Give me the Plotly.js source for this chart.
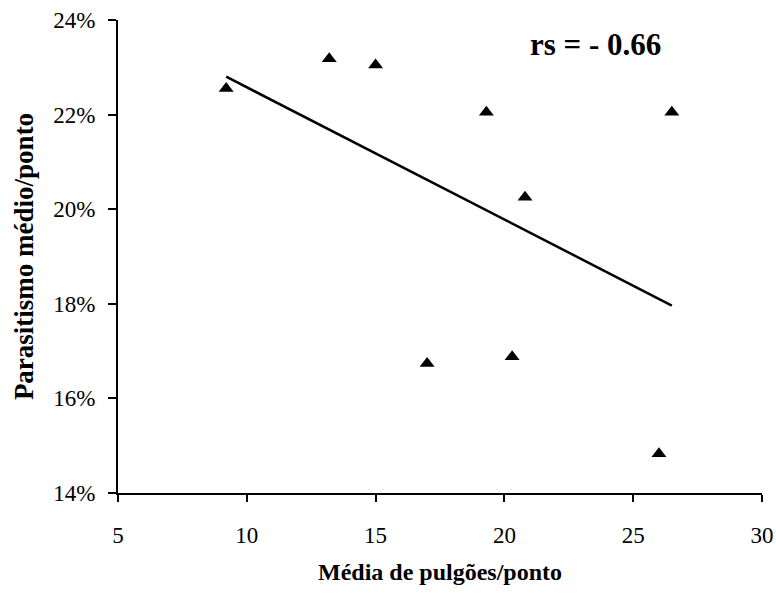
<!DOCTYPE html>
<html>
<head>
<meta charset="utf-8">
<script src="https://cdn.plot.ly/plotly-3.0.1.min.js"></script>
<style>html,body{margin:0;padding:0;background:#fff;}</style>
</head>
<body>
<div id="chart"></div>
<script>
// Data
const pulgoes = [9.2, 13.2, 15.0, 17.0, 19.3, 20.3, 20.8, 26.0, 26.5];
const parasitismo = [22.55, 23.18, 23.05, 16.74, 22.05, 16.88, 20.25, 14.83, 22.05];
const xTicks = [5, 10, 15, 20, 25, 30];
const yTicks = [14, 16, 18, 20, 22, 24];
const yTickLabels = ['14%', '16%', '18%', '20%', '22%', '24%'];
const rsLabel = 'rs = - 0.66';

// Least-squares trend line computed from the data
const n = pulgoes.length;
const mx = pulgoes.reduce((a, b) => a + b, 0) / n;
const my = parasitismo.reduce((a, b) => a + b, 0) / n;
let sxy = 0, sxx = 0;
for (let i = 0; i < n; i++) { sxy += (pulgoes[i] - mx) * (parasitismo[i] - my); sxx += (pulgoes[i] - mx) ** 2; }
const slope = sxy / sxx, icpt = my - slope * mx;
const trendX = [Math.min(...pulgoes), Math.max(...pulgoes)];
const trendY = trendX.map(x => icpt + slope * x);

const FAM = 'Liberation Serif';
const traces = [
  { x: trendX, y: trendY, mode: 'lines', line: { color: '#000', width: 2.5 }, hoverinfo: 'skip' },
  { x: pulgoes, y: parasitismo, mode: 'markers', marker: { symbol: 'triangle-up', size: 13, color: '#000' } }
];
const layout = {
  width: 776, height: 593,
  margin: { l: 118, r: 14, t: 20, b: 100 },
  paper_bgcolor: '#fff', plot_bgcolor: '#fff',
  showlegend: false,
  xaxis: {
    range: [5, 30], tickvals: xTicks, showgrid: false, zeroline: false,
    showline: true, linecolor: '#000', linewidth: 2,
    ticks: 'outside', ticklen: 7, tickwidth: 2, tickcolor: '#000',
    ticklabelstandoff: 13,
    tickfont: { family: FAM, size: 23, color: '#000' },
    title: { text: '<b>Média de pulgões/ponto</b>', font: { family: FAM, size: 24, color: '#000' }, standoff: 17 }
  },
  yaxis: {
    range: [14, 24], tickvals: yTicks, ticktext: yTickLabels, showgrid: false, zeroline: false,
    showline: true, linecolor: '#000', linewidth: 2,
    ticks: 'outside', ticklen: 8, tickwidth: 2, tickcolor: '#000',
    ticklabelstandoff: 8,
    tickfont: { family: FAM, size: 23, color: '#000' },
    title: { text: '<b>Parasitismo médio/ponto</b>', font: { family: FAM, size: 27, color: '#000' }, standoff: 12 }
  },
  annotations: [{
    x: 0.741, y: 0.949, xref: 'paper', yref: 'paper', xanchor: 'center', yanchor: 'middle',
    text: '<b>' + rsLabel + '</b>', showarrow: false,
    font: { family: FAM, size: 31, color: '#000' }
  }]
};
Plotly.newPlot('chart', traces, layout, { displayModeBar: false });
</script>
</body>
</html>
